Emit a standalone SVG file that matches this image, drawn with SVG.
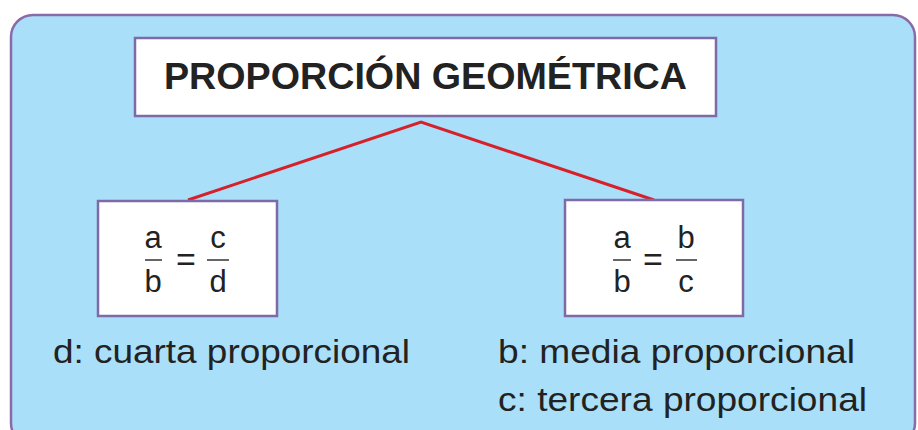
<svg xmlns="http://www.w3.org/2000/svg" width="918" height="430" viewBox="0 0 918 430">
<style>
.box{fill:#ffffff;stroke:#7d6aa6;stroke-width:2.5}
.t{font-family:"Liberation Sans",Arial,sans-serif;fill:#222222}
.title{font-size:36px;font-weight:bold}
.lbl{font-size:34px}
.fr{font-size:31px;text-anchor:middle}
.eq{font-size:34px;text-anchor:middle}
.bar{stroke:#333333;stroke-width:1.5}
.con{stroke:#d8202a;stroke-width:3;fill:none}
</style>
<rect width="918" height="430" fill="#ffffff"/>
<rect x="11" y="15" width="904" height="430" rx="22" fill="#aadff9" stroke="#8a6aa8" stroke-width="2.5"/>
<g id="connectors">
<polyline class="con" points="188,200 421,122 654,200"/>
</g>
<g id="title">
<rect class="box" x="135" y="38" width="581" height="78"/>
<text class="t title" x="425.5" y="89" text-anchor="middle" textLength="523" lengthAdjust="spacingAndGlyphs">PROPORCIÓN GEOMÉTRICA</text>
</g>
<g id="left">
<rect class="box" x="98" y="201" width="179" height="115"/>
<text class="t fr" x="153" y="248">a</text>
<line class="bar" x1="145" y1="260" x2="162" y2="260"/>
<text class="t fr" x="153" y="292">b</text>
<text class="t eq" x="186" y="271">=</text>
<text class="t fr" x="218" y="248">c</text>
<line class="bar" x1="207" y1="260" x2="229" y2="260"/>
<text class="t fr" x="218" y="292">d</text>
</g>
<g id="right">
<rect class="box" x="565" y="200" width="178" height="116"/>
<text class="t fr" x="622" y="248">a</text>
<line class="bar" x1="613" y1="260" x2="631" y2="260"/>
<text class="t fr" x="622" y="292">b</text>
<text class="t eq" x="653" y="271">=</text>
<text class="t fr" x="686" y="248">b</text>
<line class="bar" x1="676" y1="260" x2="697" y2="260"/>
<text class="t fr" x="686" y="292">c</text>
</g>
<g id="labels">
<text class="t lbl" x="53" y="363" textLength="357" lengthAdjust="spacingAndGlyphs">d: cuarta proporcional</text>
<text class="t lbl" x="498" y="363" textLength="357" lengthAdjust="spacingAndGlyphs">b: media proporcional</text>
<text class="t lbl" x="498" y="411" textLength="369" lengthAdjust="spacingAndGlyphs">c: tercera proporcional</text>
</g>
</svg>
